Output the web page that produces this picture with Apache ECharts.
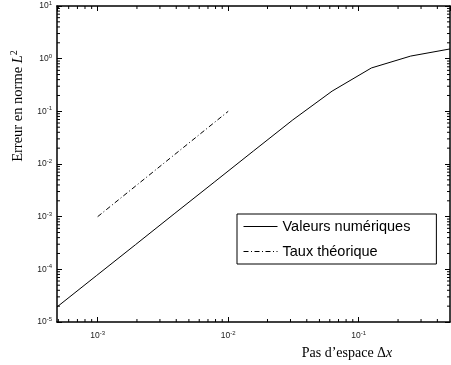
<!DOCTYPE html>
<html>
<head>
<meta charset="utf-8">
<script src="https://cdn.jsdelivr.net/npm/echarts@6/dist/echarts.min.js"></script>
<style>
  html, body { margin: 0; padding: 0; background: #fff; }
  #chart { width: 451px; height: 365px; }
</style>
</head>
<body>
<div id="chart"></div>
<script>
// mesh sizes (dx) and measured L2 error
const dxValues = [0.5, 0.25, 0.125, 0.0625, 0.03125, 0.015625, 0.0078125, 0.00390625, 0.001953125, 0.0009765625, 0.00048828125];
const errValues = [1.53, 1.12, 0.666, 0.242, 0.0688, 0.0177, 0.00452, 0.00116, 0.000295, 0.0000755, 0.0000193];

// theoretical order-2 reference segment
const tauxX = [0.001, 0.01];
const tauxY = [0.001, 0.1];

const xMin = 0.00048828125;
const xMax = 0.5;
const yMin = 1e-5;
const yMax = 10;

// minor tick positions (2..9 x 10^k)
const minorX = [5e-4, 6e-4, 7e-4, 8e-4, 9e-4,
  2e-3, 3e-3, 4e-3, 5e-3, 6e-3, 7e-3, 8e-3, 9e-3,
  2e-2, 3e-2, 4e-2, 5e-2, 6e-2, 7e-2, 8e-2, 9e-2,
  2e-1, 3e-1, 4e-1];
const minorY = [2e-5, 3e-5, 4e-5, 5e-5, 6e-5, 7e-5, 8e-5, 9e-5,
  2e-4, 3e-4, 4e-4, 5e-4, 6e-4, 7e-4, 8e-4, 9e-4,
  2e-3, 3e-3, 4e-3, 5e-3, 6e-3, 7e-3, 8e-3, 9e-3,
  2e-2, 3e-2, 4e-2, 5e-2, 6e-2, 7e-2, 8e-2, 9e-2,
  2e-1, 3e-1, 4e-1, 5e-1, 6e-1, 7e-1, 8e-1, 9e-1,
  2, 3, 4, 5, 6, 7, 8, 9];

const sans = "'Liberation Sans', Arial, sans-serif";
const serif = "'Liberation Serif', 'Times New Roman', serif";
const frame = { show: true, lineStyle: { color: "#000", width: 1.5 } };
const majorTick = { show: true, inside: true, length: 5, lineStyle: { color: "#000", width: 1 } };

const powerRich = {
  b: { fontFamily: sans, fontSize: 8.5, color: "#222" },
  e: { fontFamily: sans, fontSize: 6, color: "#222", padding: [0, 0, 5, 0] },
};
const powerLabel = (v) => "{b|10}{e|" + Math.round(Math.log10(v)) + "}";

const minorLen = 3;

const chart = echarts.init(document.getElementById("chart"), null, { renderer: "canvas" });
chart.setOption({
  animation: false,
  backgroundColor: "#fff",
  grid: { left: 57, top: 6, right: 1, bottom: 43 },
  xAxis: [
    {
      type: "log", min: xMin, max: xMax, position: "bottom",
      axisLine: frame, axisTick: majorTick, splitLine: { show: false },
      axisLabel: { margin: 8, showMinLabel: false, showMaxLabel: false, formatter: powerLabel, rich: powerRich },
    },
    {
      type: "log", min: xMin, max: xMax, position: "top",
      axisLine: frame, axisTick: majorTick, splitLine: { show: false }, axisLabel: { show: false },
    },
  ],
  yAxis: [
    {
      type: "log", min: yMin, max: yMax, position: "left",
      axisLine: frame, axisTick: majorTick, splitLine: { show: false },
      axisLabel: { margin: 5, formatter: powerLabel, rich: powerRich },
    },
    {
      type: "log", min: yMin, max: yMax, position: "right",
      axisLine: frame, axisTick: majorTick, splitLine: { show: false }, axisLabel: { show: false },
    },
  ],
  legend: {
    orient: "vertical",
    left: 237,
    top: 214,
    padding: [5, 26, 5, 6],
    itemWidth: 34,
    itemHeight: 14,
    itemGap: 10,
    itemStyle: { opacity: 0 },
    lineStyle: { width: 1 },
    backgroundColor: "#fff",
    borderColor: "#000",
    borderWidth: 1,
    borderRadius: 0,
    textStyle: { fontFamily: sans, fontSize: 14.5, color: "#000" },
    data: ["Valeurs numériques", "Taux théorique"],
  },
  graphic: [
    {
      type: "text", x: 18, y: 106, rotation: Math.PI / 2,
      style: {
        text: "{n|Erreur en norme }{i|L}{s|2}",
        align: "center", verticalAlign: "middle",
        rich: {
          n: { fontFamily: serif, fontSize: 14.5, fill: "#000" },
          i: { fontFamily: serif, fontSize: 14.5, fontStyle: "italic", fill: "#000" },
          s: { fontFamily: serif, fontSize: 10, fill: "#000", padding: [0, 0, 8, 0] },
        },
      },
    },
    {
      type: "text", x: 347, y: 353,
      style: {
        text: "{n|Pas d\u2019espace Δ}{i|x}",
        align: "center", verticalAlign: "middle",
        rich: {
          n: { fontFamily: serif, fontSize: 14, fill: "#000" },
          i: { fontFamily: serif, fontSize: 14, fontStyle: "italic", fill: "#000" },
        },
      },
    },
  ],
  series: [
    {
      name: "Valeurs numériques",
      type: "line",
      data: dxValues.map((x, i) => [x, errValues[i]]),
      showSymbol: false,
      symbol: "none",
      lineStyle: { color: "#000", width: 1 },
      itemStyle: { color: "#000" },
      z: 3,
    },
    {
      name: "Taux théorique",
      type: "line",
      data: tauxX.map((x, i) => [x, tauxY[i]]),
      showSymbol: false,
      symbol: "none",
      lineStyle: { color: "#000", width: 1, type: [5, 2.5, 1, 2.5] },
      itemStyle: { color: "#000" },
      z: 3,
    },
    {
      type: "custom",
      silent: true,
      clip: false,
      data: minorX.map((x) => [x, yMin]),
      renderItem: (params, api) => {
        const v = api.value(0);
        const b = api.coord([v, yMin]);
        const t = api.coord([v, yMax]);
        const st = { stroke: "#000", lineWidth: 1 };
        return {
          type: "group",
          children: [
            { type: "line", shape: { x1: b[0], y1: b[1], x2: b[0], y2: b[1] - minorLen }, style: st },
            { type: "line", shape: { x1: t[0], y1: t[1], x2: t[0], y2: t[1] + minorLen }, style: st },
          ],
        };
      },
    },
    {
      type: "custom",
      silent: true,
      clip: false,
      data: minorY.map((y) => [xMin, y]),
      renderItem: (params, api) => {
        const v = api.value(1);
        const l = api.coord([xMin, v]);
        const r = api.coord([xMax, v]);
        const st = { stroke: "#000", lineWidth: 1 };
        return {
          type: "group",
          children: [
            { type: "line", shape: { x1: l[0], y1: l[1], x2: l[0] + minorLen, y2: l[1] }, style: st },
            { type: "line", shape: { x1: r[0], y1: r[1], x2: r[0] - minorLen, y2: r[1] }, style: st },
          ],
        };
      },
    },
  ],
});
</script>
</body>
</html>
